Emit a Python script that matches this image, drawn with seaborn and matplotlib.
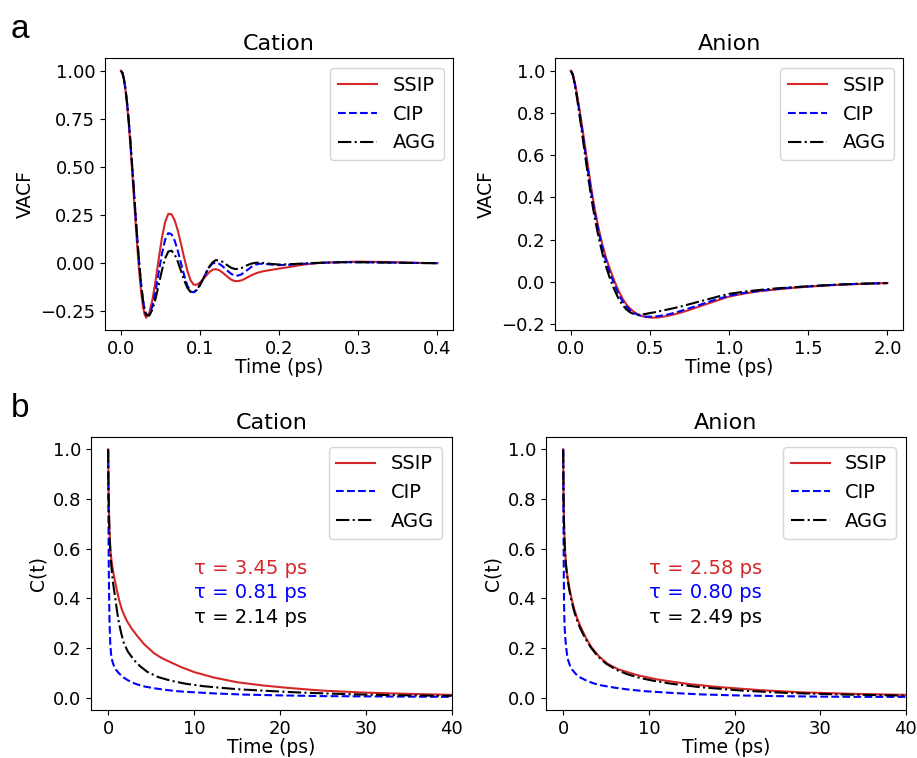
import numpy as np
import pandas as pd
import matplotlib
matplotlib.use("Agg")
import matplotlib.pyplot as plt
import seaborn as sns

# ---------------- data ----------------
series_names = ["SSIP", "CIP", "AGG"]
colors = {"SSIP": "tab:red", "CIP": "blue", "AGG": "black"}

# (a) Cation VACF
cat_vacf_t = [0, 0.002, 0.004, 0.006, 0.008, 0.010, 0.012, 0.014, 0.016, 0.018,
              0.020, 0.022, 0.024, 0.026, 0.028, 0.030, 0.032,
              0.036, 0.040, 0.044, 0.048, 0.052, 0.056, 0.060, 0.064, 0.068, 0.072,
              0.076, 0.080, 0.084, 0.088, 0.092, 0.096, 0.100, 0.104, 0.108, 0.112,
              0.116, 0.120, 0.124, 0.128, 0.132, 0.136, 0.140, 0.144, 0.148,
              0.152, 0.156, 0.160, 0.165, 0.170, 0.175, 0.180, 0.19, 0.20, 0.21,
              0.22, 0.23, 0.24, 0.25, 0.26, 0.28, 0.30, 0.32, 0.34, 0.36, 0.38, 0.40]
cat_vacf_ssip = [1.0, 0.988, 0.952, 0.894, 0.817, 0.722, 0.614, 0.495, 0.371, 0.248,
                 0.127, 0.017, -0.083, -0.165, -0.229, -0.269, -0.287,
                 -0.261, -0.192, -0.092, 0.023, 0.131, 0.212, 0.254, 0.252, 0.221, 0.167,
                 0.098, 0.025, -0.041, -0.091, -0.115, -0.115, -0.104, -0.087, -0.067, -0.049,
                 -0.037, -0.034, -0.039, -0.050, -0.064, -0.078, -0.090, -0.096, -0.0965,
                 -0.093, -0.086, -0.077, -0.066, -0.057, -0.050, -0.045, -0.038, -0.031, -0.025,
                 -0.018, -0.011, -0.006, -0.002, 0.0, 0.003, 0.005, 0.004, 0.003, 0.0, -0.002, -0.003]
cat_vacf_cip = [1.0, 0.989, 0.955, 0.902, 0.828, 0.739, 0.636, 0.524, 0.406, 0.286,
                0.169, 0.059, -0.040, -0.127, -0.195, -0.244, -0.272,
                -0.272, -0.227, -0.147, -0.048, 0.047, 0.120, 0.154, 0.148, 0.115, 0.062,
                -0.003, -0.066, -0.119, -0.150, -0.155, -0.143, -0.118, -0.085, -0.051, -0.022,
                -0.004, 0.0, -0.006, -0.017, -0.032, -0.047, -0.060, -0.067, -0.0675,
                -0.062, -0.051, -0.038, -0.022, -0.011, -0.006, -0.006, -0.010, -0.013, -0.012,
                -0.009, -0.006, -0.004, -0.002, 0.0, 0.002, 0.002, 0.001, 0.0, -0.001, -0.002, -0.003]
cat_vacf_agg = [1.0, 0.989, 0.955, 0.902, 0.828, 0.739, 0.636, 0.524, 0.406, 0.286,
                0.169, 0.059, -0.040, -0.127, -0.195, -0.245, -0.274,
                -0.276, -0.244, -0.186, -0.113, -0.039, 0.022, 0.058, 0.062, 0.043, 0.005,
                -0.043, -0.092, -0.131, -0.153, -0.154, -0.141, -0.116, -0.084, -0.050, -0.020,
                0.002, 0.013, 0.011, 0.005, -0.006, -0.018, -0.028, -0.033, -0.0335,
                -0.029, -0.021, -0.013, -0.005, -0.001, 0.0, -0.002, -0.007, -0.010, -0.009,
                -0.007, -0.005, -0.003, -0.001, 0.0, 0.002, 0.002, 0.001, 0.0, -0.001, -0.002, -0.003]

# (a) Anion VACF
an_vacf_t = [0, 0.0125, 0.025, 0.0375, 0.05, 0.0625, 0.075, 0.0875, 0.1, 0.1125, 0.125,
             0.1375, 0.15, 0.175, 0.2, 0.225, 0.25, 0.275, 0.3, 0.325, 0.35, 0.375, 0.4,
             0.425, 0.45, 0.475, 0.5, 0.525, 0.55, 0.6, 0.65, 0.7, 0.75, 0.8, 0.85, 0.9,
             0.95, 1.0, 1.1, 1.2, 1.3, 1.4, 1.5, 1.6, 1.7, 1.8, 1.9, 2.0]
an_vacf_ssip = [1.0, 0.985, 0.945, 0.895, 0.84, 0.78, 0.718, 0.655, 0.59, 0.528, 0.465,
                0.405, 0.35, 0.255, 0.175, 0.108, 0.055, 0.005, -0.04, -0.077, -0.106, -0.127,
                -0.143, -0.155, -0.163, -0.167, -0.169, -0.170, -0.169, -0.163, -0.155, -0.145,
                -0.133, -0.120, -0.107, -0.095, -0.082, -0.070, -0.055, -0.044, -0.036, -0.029,
                -0.023, -0.018, -0.014, -0.011, -0.008, -0.006]
an_vacf_cip = [1.0, 0.983, 0.94, 0.887, 0.828, 0.765, 0.70, 0.635, 0.57, 0.507, 0.445,
               0.386, 0.332, 0.238, 0.158, 0.092, 0.035, -0.012, -0.055, -0.09, -0.116, -0.135,
               -0.148, -0.157, -0.162, -0.165, -0.165, -0.165, -0.163, -0.157, -0.148, -0.137,
               -0.125, -0.113, -0.100, -0.088, -0.077, -0.066, -0.052, -0.042, -0.034, -0.027,
               -0.022, -0.017, -0.013, -0.010, -0.008, -0.006]
an_vacf_agg = [1.0, 0.98, 0.935, 0.878, 0.815, 0.75, 0.682, 0.614, 0.547, 0.482, 0.42,
               0.362, 0.308, 0.213, 0.133, 0.066, 0.01, -0.037, -0.077, -0.108, -0.13, -0.145,
               -0.153, -0.156, -0.155, -0.152, -0.148, -0.145, -0.141, -0.133, -0.125, -0.116,
               -0.106, -0.096, -0.086, -0.076, -0.066, -0.057, -0.046, -0.038, -0.031, -0.026,
               -0.021, -0.017, -0.013, -0.010, -0.008, -0.006]

# (b) Cation C(t)
cat_c_ssip_t = [0, 0.03, 0.06, 0.1, 0.15, 0.2, 0.3, 0.45, 0.66, 0.85, 1.05, 1.3, 1.55, 1.83,
                2.2, 2.7, 3.4, 4.2, 5.3, 6.2, 7.3, 8.5, 10, 12.3, 15, 18, 21, 25, 30, 35, 40]
cat_c_ssip = [1.0, 0.90, 0.82, 0.74, 0.68, 0.635, 0.58, 0.535, 0.494, 0.46, 0.427, 0.39,
              0.36, 0.335, 0.308, 0.28, 0.248, 0.215, 0.18, 0.16, 0.142, 0.123, 0.103, 0.081,
              0.062, 0.049, 0.039, 0.028, 0.02, 0.015, 0.011]
cat_c_cip_t = [0, 0.02, 0.05, 0.08, 0.12, 0.16, 0.2, 0.25, 0.35, 0.5, 0.66, 0.9, 1.2, 1.5,
               1.83, 2.3, 2.8, 3.4, 4.2, 5.3, 6.5, 8, 9.2, 12.3, 16, 20, 25, 30, 35, 40]
cat_c_cip = [1.0, 0.82, 0.64, 0.5, 0.39, 0.31, 0.26, 0.215, 0.172, 0.145, 0.129, 0.113, 0.1,
             0.09, 0.08, 0.07, 0.061, 0.053, 0.045, 0.038, 0.032, 0.026, 0.023, 0.017, 0.012,
             0.009, 0.006, 0.005, 0.004, 0.003]
cat_c_agg_t = [0, 0.03, 0.06, 0.1, 0.15, 0.2, 0.3, 0.45, 0.6, 0.86, 1.05, 1.25, 1.5, 1.83,
               2.3, 3.0, 3.7, 4.55, 5.8, 7.3, 9, 11.1, 13, 15, 18, 22, 26, 30, 35, 40]
cat_c_agg = [1.0, 0.89, 0.81, 0.735, 0.672, 0.625, 0.562, 0.5, 0.455, 0.393, 0.345, 0.303,
             0.262, 0.22, 0.185, 0.152, 0.127, 0.104, 0.083, 0.068, 0.056, 0.046, 0.04, 0.034,
             0.028, 0.021, 0.016, 0.012, 0.009, 0.007]

# (b) Anion C(t)
an_c_ssip_t = [0, 0.03, 0.06, 0.1, 0.15, 0.2, 0.3, 0.45, 0.7, 1.0, 1.3, 1.65, 2.0, 2.66, 3.3,
               4.2, 5.2, 6.5, 8.7, 11, 14.6, 18, 23, 28, 34, 40]
an_c_ssip = [1.0, 0.86, 0.77, 0.70, 0.645, 0.605, 0.55, 0.50, 0.445, 0.395, 0.355, 0.318,
             0.288, 0.24, 0.203, 0.165, 0.136, 0.113, 0.09, 0.073, 0.055, 0.043, 0.03, 0.021,
             0.015, 0.011]
an_c_cip_t = [0, 0.02, 0.05, 0.08, 0.1, 0.15, 0.2, 0.28, 0.35, 0.45, 0.6, 0.8, 1.1, 1.5, 2.0,
              2.8, 3.6, 4.5, 6, 7.5, 9.5, 12.6, 16, 20, 25, 30, 35, 40]
an_c_cip = [1.0, 0.82, 0.6, 0.45, 0.38, 0.3, 0.26, 0.225, 0.2, 0.173, 0.148, 0.128, 0.11,
            0.094, 0.081, 0.067, 0.057, 0.049, 0.04, 0.033, 0.026, 0.019, 0.013, 0.009, 0.006,
            0.004, 0.003, 0.003]
an_c_agg_t = [0, 0.03, 0.06, 0.1, 0.15, 0.2, 0.3, 0.45, 0.7, 1.0, 1.3, 1.65, 2.0, 2.5, 3.2,
              4.0, 5.0, 6.2, 7.5, 9, 10.5, 12.6, 16, 21, 26, 32, 40]
an_c_agg = [1.0, 0.85, 0.76, 0.69, 0.635, 0.595, 0.54, 0.49, 0.435, 0.385, 0.345, 0.308,
            0.278, 0.243, 0.203, 0.168, 0.137, 0.112, 0.094, 0.079, 0.068, 0.056, 0.042,
            0.028, 0.019, 0.013, 0.008]

tau_cation = ["τ = 3.45 ps", "τ = 0.81 ps", "τ = 2.14 ps"]
tau_anion = ["τ = 2.58 ps", "τ = 0.80 ps", "τ = 2.49 ps"]


def long_df(parts):
    frames = []
    for name, t, v in parts:
        frames.append(pd.DataFrame({"t": t, "v": v, "series": name}))
    return pd.concat(frames, ignore_index=True)


df_a_cat = long_df([("SSIP", cat_vacf_t, cat_vacf_ssip), ("CIP", cat_vacf_t, cat_vacf_cip),
                    ("AGG", cat_vacf_t, cat_vacf_agg)])
df_a_an = long_df([("SSIP", an_vacf_t, an_vacf_ssip), ("CIP", an_vacf_t, an_vacf_cip),
                   ("AGG", an_vacf_t, an_vacf_agg)])
df_b_cat = long_df([("SSIP", cat_c_ssip_t, cat_c_ssip), ("CIP", cat_c_cip_t, cat_c_cip),
                    ("AGG", cat_c_agg_t, cat_c_agg)])
df_b_an = long_df([("SSIP", an_c_ssip_t, an_c_ssip), ("CIP", an_c_cip_t, an_c_cip),
                   ("AGG", an_c_agg_t, an_c_agg)])

# ---------------- figure ----------------
plt.rcParams["font.family"] = ["DejaVu Sans"]
fig = plt.figure(figsize=(9.17, 7.58), dpi=100)

ax_tl = fig.add_axes([0.1145, 0.5646, 0.3798, 0.3584])
ax_tr = fig.add_axes([0.6052, 0.5646, 0.3798, 0.3584])
ax_bl = fig.add_axes([0.0992, 0.0633, 0.3933, 0.3602])
ax_br = fig.add_axes([0.5955, 0.0633, 0.3923, 0.3602])

dashes = {"SSIP": "", "CIP": (3.7, 1.6), "AGG": (6.4, 1.6, 1.0, 1.6)}

panels = [
    (ax_tl, df_a_cat, "Cation", "VACF"),
    (ax_tr, df_a_an, "Anion", "VACF"),
    (ax_bl, df_b_cat, "Cation", "C(t)"),
    (ax_br, df_b_an, "Anion", "C(t)"),
]

for ax, df, title, ylab in panels:
    sns.lineplot(data=df, x="t", y="v", hue="series", style="series",
                 hue_order=series_names, style_order=series_names,
                 palette=colors, dashes=dashes, linewidth=1.5,
                 estimator=None, ax=ax)
    ax.set_title(title, fontsize=16)
    ax.set_xlabel("Time (ps)", fontsize=13.5, labelpad=0)
    ax.set_ylabel(ylab, fontsize=13.5)
    ax.tick_params(labelsize=13)
    sns.move_legend(ax, "upper right", title=None, fontsize=14, frameon=True)

ax_tl.set_yticks([1.0, 0.75, 0.5, 0.25, 0.0, -0.25])
ax_tl.set_yticklabels(["1.00", "0.75", "0.50", "0.25", "0.00", "−0.25"])
ax_tl.set_xticks([0.0, 0.1, 0.2, 0.3, 0.4])
ax_tr.set_xticks([0.0, 0.5, 1.0, 1.5, 2.0])
ax_tr.set_yticks([1.0, 0.8, 0.6, 0.4, 0.2, 0.0, -0.2])

for ax in (ax_bl, ax_br):
    ax.set_xlim(-2, 40)
    ax.set_ylim(-0.05, 1.05)
    ax.set_xticks([0, 10, 20, 30, 40])
    ax.set_yticks([0.0, 0.2, 0.4, 0.6, 0.8, 1.0])

tau_colors = [colors["SSIP"], colors["CIP"], colors["AGG"]]
for ax, taus in ((ax_bl, tau_cation), (ax_br, tau_anion)):
    for txt, col, y in zip(taus, tau_colors, (0.5, 0.4, 0.3)):
        ax.text(10, y, txt, color=col, fontsize=14)

fig.text(0.012, 0.950, "a", fontsize=24, family=["Liberation Sans", "DejaVu Sans"])
fig.text(0.012, 0.450, "b", fontsize=24, family=["Liberation Sans", "DejaVu Sans"])

fig.savefig("out.png", dpi=100)
